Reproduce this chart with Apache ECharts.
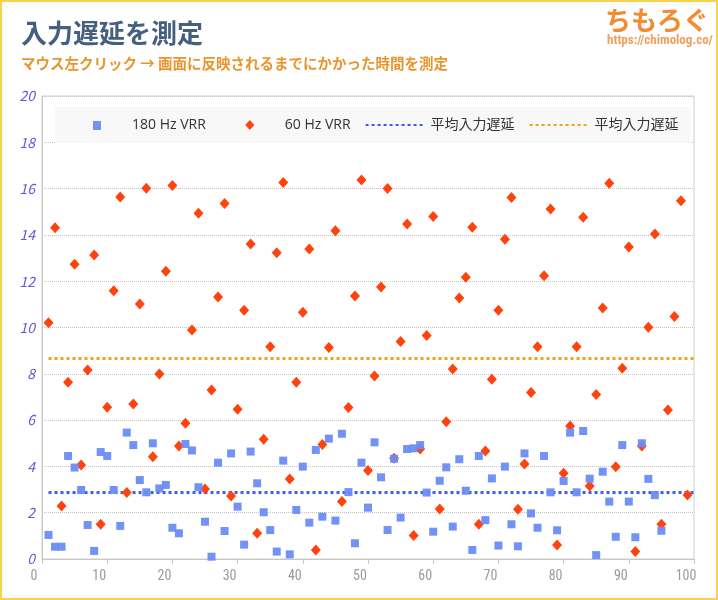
<!DOCTYPE html>
<html>
<head>
<meta charset="utf-8">
<script src="https://cdn.jsdelivr.net/npm/echarts@6/dist/echarts.min.js"></script>
<style>
html,body{margin:0;padding:0;background:#fff;}
#chart{width:718px;height:600px;}
</style>
</head>
<body>
<div id="chart"></div>
<script>
// ---- data ----
const titleText = '入力遅延を測定';
const subtitleText = 'マウス左クリック → 画面に反映されるまでにかかった時間を測定';
const logoText = 'ちもろぐ';
const logoUrl = 'https://chimolog.co/';
const seriesNames = ['180 Hz VRR', '60 Hz VRR', '平均入力遅延', '平均入力遅延'];

const values180 = [
  1.04, 0.53, 0.53, 4.45, 3.95, 2.98, 1.47, 0.35, 4.62, 4.45,
  2.98, 1.43, 5.46, 4.92, 3.41, 2.88, 5.00, 3.05, 3.20, 1.35,
  1.11, 4.97, 4.69, 3.10, 1.61, 0.10, 4.16, 1.21, 4.56, 2.26,
  0.62, 4.64, 3.27, 2.02, 1.25, 0.32, 4.25, 0.20, 2.12, 3.99,
  1.57, 4.71, 1.83, 5.20, 1.66, 5.41, 2.89, 0.68, 4.16, 2.22,
  5.04, 3.53, 1.25, 4.33, 1.79, 4.75, 4.78, 4.92, 2.87, 1.18,
  3.38, 3.96, 1.40, 4.31, 2.95, 0.39, 4.45, 1.68, 3.48, 0.58,
  3.99, 1.50, 0.55, 4.56, 1.97, 1.35, 4.45, 2.88, 1.24, 3.37,
  5.46, 2.88, 5.53, 3.47, 0.17, 3.77, 2.48, 0.96, 4.92, 2.48,
  0.94, 5.00, 3.46, 2.76, 1.22
];
const values60 = [
  10.21, 14.31, 2.29, 7.63, 12.73, 4.06, 8.16, 13.13, 1.50, 6.55,
  11.59, 15.64, 2.87, 6.70, 11.01, 16.01, 4.42, 7.99, 12.43, 16.13,
  4.88, 5.86, 9.89, 14.93, 3.02, 7.30, 11.32, 15.36, 2.72, 6.47,
  10.74, 13.61, 1.11, 5.17, 9.17, 13.23, 16.26, 3.46, 7.63, 10.66,
  13.39, 0.39, 4.95, 9.14, 14.18, 2.48, 6.54, 11.36, 16.37, 3.82,
  7.90, 11.75, 16.00, 4.35, 9.39, 14.47, 1.01, 4.75, 9.65, 14.80,
  2.16, 5.93, 8.21, 11.27, 12.17, 14.33, 1.50, 4.67, 7.76, 10.74,
  13.81, 15.62, 2.15, 4.10, 7.19, 9.17, 12.24, 15.12, 0.60, 3.70,
  5.75, 9.17, 14.76, 3.15, 7.11, 10.84, 16.23, 3.99, 8.24, 13.48,
  0.32, 4.88, 10.01, 14.04, 1.50, 6.44, 10.48, 15.48, 2.76
];
const avg180 = 2.87;
const avg60 = 8.66;
const avgSpan = [1, 100];
const xTicks = [0, 10, 20, 30, 40, 50, 60, 70, 80, 90, 100];
const yTicks = [0, 2, 4, 6, 8, 10, 12, 14, 16, 18, 20];

// ---- chart ----
const chart = echarts.init(document.getElementById('chart'), null, {renderer: 'canvas'});
const jp = '"Noto Sans CJK JP", "Noto Sans", sans-serif';
const legendFont = '"Open Sans", "Noto Sans CJK JP", sans-serif';
const narrow = '"Liberation Sans Narrow", "Roboto Condensed", "DejaVu Sans Condensed", sans-serif';

const pts180 = values180.map((v, i) => [i + 1, v]);
const pts60 = values60.map((v, i) => [i + 1, v]);

// legend icons: a small symbol centred in a 60-wide box
const iconSquare = 'path://M0,0L0,0M60,10L60,10M26,1L34,1L34,10L26,10Z';
const iconDiamond = 'path://M0,0L0,0M60,10L60,10M30,0L34.5,5L30,10L25.5,5Z';

const option = {
  backgroundColor: '#ffffff',
  animation: false,
  title: [
    {text: titleText, left: 16, top: 15,
     textStyle: {fontFamily: jp, fontSize: 26, fontWeight: 'bold', color: '#45607f'}},
    {text: subtitleText, left: 16, top: 51,
     textStyle: {fontFamily: jp, fontSize: 14.5, fontWeight: 'bold', color: '#e9952e'}},
    {text: logoText, left: 600, top: 2,
     textStyle: {fontFamily: jp, fontSize: 26, fontWeight: 'bold', color: '#f28b32'}},
    {text: logoUrl, left: 602, top: 29,
     textStyle: {fontFamily: narrow, fontSize: 13, fontWeight: 'bold', color: '#eda060'}}
  ],
  graphic: [
    {type: 'rect', silent: true, z: 100,
     shape: {x: 1, y: 1, width: 716, height: 598},
     style: {fill: 'none', stroke: '#f8d24c', lineWidth: 2}}
  ],
  legend: {
    left: 55, top: 107,
    padding: [11, 12, 11, 12],
    backgroundColor: '#f8f8f8',
    itemWidth: 60, itemHeight: 10, itemGap: 14,
    data: [
      {name: seriesNames[0], icon: iconSquare},
      {name: seriesNames[1], icon: iconDiamond},
      {name: 'avg180', itemStyle: {opacity: 0}},
      {name: 'avg60', itemStyle: {opacity: 0}}
    ],
    formatter: function (name) {
      if (name === 'avg180' || name === 'avg60') return seriesNames[2];
      return name;
    },
    textStyle: {fontFamily: legendFont, fontSize: 14, color: '#333'},
    z: 10
  },
  grid: {
    left: 42, right: 24, top: 96, bottom: 41,
    show: true, borderColor: '#cfcfcf', borderWidth: 1,
    containLabel: false
  },
  xAxis: {
    type: 'value', min: 0, max: 100, interval: 10,
    axisLine: {show: true, lineStyle: {color: '#c8c8c8', width: 1}},
    axisTick: {show: true, length: 5, lineStyle: {color: '#c8c8c8'}},
    splitLine: {show: false},
    axisLabel: {
      fontFamily: narrow, fontSize: 14, color: '#9a9a9a', margin: 10,
      padding: [0, 16, 0, 0],
      formatter: v => (xTicks.indexOf(v) >= 0 ? String(v) : '')
    }
  },
  yAxis: {
    type: 'value', min: 0, max: 20, interval: 2,
    axisLine: {show: true, lineStyle: {color: '#c8c8c8', width: 1}},
    axisTick: {show: false},
    splitLine: {show: true, lineStyle: {color: '#c4c4c4', type: 'dotted', width: 1}},
    axisLabel: {
      fontFamily: jp, fontSize: 14, fontStyle: 'italic', color: '#6a55d8', margin: 7,
      formatter: v => (yTicks.indexOf(v) >= 0 ? String(v) : '')
    }
  },
  series: [
    {name: 'avg180', type: 'line', symbol: 'none', z: 1, silent: true,
     data: [[avgSpan[0], avg180], [avgSpan[1], avg180]],
     itemStyle: {color: '#3b5cf2'},
     lineStyle: {color: '#3b5cf2', width: 3, type: [3, 3]}},
    {name: 'avg60', type: 'line', symbol: 'none', z: 1, silent: true,
     data: [[avgSpan[0], avg60], [avgSpan[1], avg60]],
     itemStyle: {color: '#f6a11c'},
     lineStyle: {color: '#f6a11c', width: 3, type: [3, 3]}},
    {name: seriesNames[1], type: 'scatter', symbol: 'diamond', symbolSize: [10, 11], z: 3,
     data: pts60,
     itemStyle: {color: '#ff420e', opacity: 1}},
    {name: seriesNames[0], type: 'scatter', symbol: 'rect', symbolSize: 8, z: 4,
     data: pts180,
     itemStyle: {color: '#6b8cf6', opacity: 0.95}}
  ]
};
chart.setOption(option);
</script>
</body>
</html>
